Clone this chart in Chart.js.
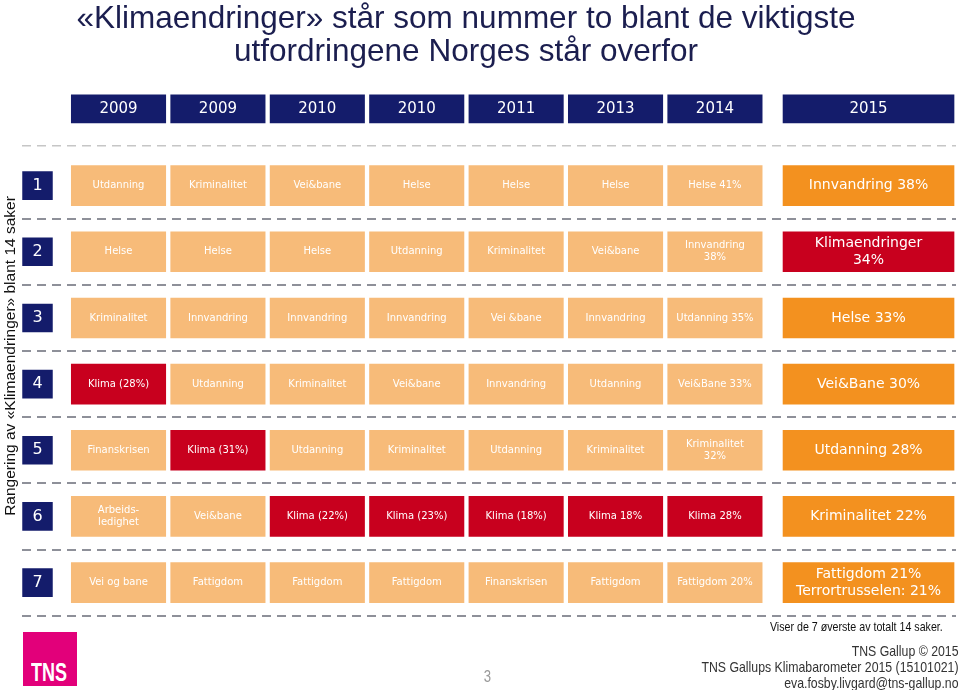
<!DOCTYPE html>
<html>
<head>
<meta charset="utf-8">
<title>Klimaendringer - rangering</title>
<script src="https://cdn.jsdelivr.net/npm/chart.js@4.4.1/dist/chart.umd.min.js"></script>
<style>
  body { margin: 0; background: #fff; }
  #wrap { position: relative; width: 960px; height: 690px; overflow: hidden; }
  #chart { position: absolute; left: 0; top: 0; }
  .txt { position: absolute; font-family: "Liberation Sans", Arial, sans-serif; white-space: nowrap; }
  #title { left: 0; top: 0; width: 932px; text-align: center; font-size: 31.5px; line-height: 33px; color: #1b1e4f; padding-top: 1px; }
  .narrow { transform: scaleX(0.82); transform-origin: right center; text-align: right; }
  #note { right: 17px; top: 620px; font-size: 13px; line-height: 14px; color: #111; }
  #foot { right: 2px; top: 643px; font-size: 15px; line-height: 16px; color: #333; }
  #page { left: 483px; top: 668px; font-size: 16px; line-height: 18px; color: #999; transform: scaleX(0.82); }
  #logo { position: absolute; left: 23px; top: 632px; width: 54px; height: 54px; background: #e2007a; }
  #logo span { position: absolute; left: 8px; bottom: 1px; font-family: "Liberation Sans", Arial, sans-serif; font-weight: bold; font-size: 25px; line-height: 25px; color: #fff; transform: scaleX(0.72); transform-origin: left bottom; }
</style>
</head>
<body>
<div id="wrap">
  <canvas id="chart" width="960" height="690"></canvas>
  <div id="title" class="txt">«Klimaendringer» står som nummer to blant de viktigste<br>utfordringene Norges står overfor</div>
  <div id="note" class="txt narrow">Viser de 7 øverste av totalt 14 saker.</div>
  <div id="foot" class="txt narrow">TNS Gallup © 2015<br>TNS Gallups Klimabarometer 2015 (15101021)<br>eva.fosby.livgard@tns-gallup.no</div>
  <div id="page" class="txt">3</div>
  <div id="logo"><span>TNS</span></div>
</div>
<script>
// ranks down the side, survey years across the top
var ranks = ['1', '2', '3', '4', '5', '6', '7'];
var years = ['2009', '2009', '2010', '2010', '2011', '2013', '2014', '2015'];

// top 7 issues in each survey, rank 1 first
var s2009a = ['Utdanning', 'Helse', 'Kriminalitet', 'Klima (28%)', 'Finanskrisen', 'Arbeids-\nledighet', 'Vei og bane'];
var s2009b = ['Kriminalitet', 'Helse', 'Innvandring', 'Utdanning', 'Klima (31%)', 'Vei&bane', 'Fattigdom'];
var s2010a = ['Vei&bane', 'Helse', 'Innvandring', 'Kriminalitet', 'Utdanning', 'Klima (22%)', 'Fattigdom'];
var s2010b = ['Helse', 'Utdanning', 'Innvandring', 'Vei&bane', 'Kriminalitet', 'Klima (23%)', 'Fattigdom'];
var s2011 = ['Helse', 'Kriminalitet', 'Vei &bane', 'Innvandring', 'Utdanning', 'Klima (18%)', 'Finanskrisen'];
var s2013 = ['Helse', 'Vei&bane', 'Innvandring', 'Utdanning', 'Kriminalitet', 'Klima 18%', 'Fattigdom'];
var s2014 = ['Helse 41%', 'Innvandring\n38%', 'Utdanning 35%', 'Vei&Bane 33%', 'Kriminalitet\n32%', 'Klima 28%', 'Fattigdom 20%'];
var s2015 = ['Innvandring 38%', 'Klimaendringer\n34%', 'Helse 33%', 'Vei&Bane 30%', 'Utdanning 28%', 'Kriminalitet 22%', 'Fattigdom 21%\nTerrortrusselen: 21%'];

var surveys = [s2009a, s2009b, s2010a, s2010b, s2011, s2013, s2014, s2015];

//layout bits (scale units)
var headerRow = -0.16;
var headerRule = 0.39;
var lastCol = years.length - 1;

var colours = {
    navy: '#141c6b',
    light: '#f7bb79',
    current: '#f3911f',
    klima: '#c8001e'
};

function colSpan(c) {
    return c === lastCol ? [7.16, 8.88] : [c, c + 0.95];
}

function cellColour(ctx) {
    var r = ctx.raw;
    if (!r) return colours.light;
    if (r.label.indexOf('Klima') === 0) return colours.klima;
    return r.col === lastCol ? colours.current : colours.light;
}

//build the datasets
var datasets = [];
datasets.push({
    label: 'År',
    data: years.map(function (yr, c) { return { x: colSpan(c), y: headerRow, label: yr }; }),
    backgroundColor: colours.navy,
    barThickness: 28,
    fontSize: 15
});
datasets.push({
    label: 'Rang',
    data: ranks.map(function (rk, i) { return { x: [-0.49, -0.19], y: i + 1, label: rk }; }),
    backgroundColor: colours.navy,
    barThickness: 28,
    fontSize: 16
});
surveys.forEach(function (list, c) {
    datasets.push({
        label: years[c],
        data: list.map(function (txt, i) { return { x: colSpan(c), y: i + 1, label: txt, col: c }; }),
        backgroundColor: cellColour,
        barThickness: 40,
        fontSize: c === lastCol ? 14 : 10
    });
});

//write the text into each box
var boxLabels = {
    id: 'boxLabels',
    afterDatasetsDraw: function (chart) {
        var ctx = chart.ctx;
        ctx.save();
        ctx.fillStyle = '#fff';
        ctx.textAlign = 'center';
        ctx.textBaseline = 'middle';
        chart.data.datasets.forEach(function (ds, i) {
            var meta = chart.getDatasetMeta(i);
            ctx.font = ds.fontSize + 'px "DejaVu Sans"';
            var lh = ds.fontSize * 1.22;
            meta.data.forEach(function (bar, j) {
                var p = bar.getProps(['x', 'y', 'base'], true);
                var lines = ds.data[j].label.split('\n');
                var cx = (p.x + p.base) / 2;
                var y0 = p.y - (lines.length - 1) * lh / 2;
                lines.forEach(function (line, k) {
                    ctx.fillText(line, cx, y0 + k * lh);
                });
            });
        });
        ctx.restore();
    }
};

var ctx = document.getElementById('chart').getContext('2d');
var myChart = new Chart(ctx, {
    type: 'bar',
    data: { datasets: datasets },
    plugins: [boxLabels],
    options: {
        responsive: false,
        animation: false,
        events: [],
        indexAxis: 'y',
        layout: { padding: { top: 93, right: 4, bottom: 71, left: 1 } },
        datasets: { bar: { grouped: false, borderWidth: 0 } },
        plugins: {
            legend: { display: false },
            tooltip: { enabled: false },
            title: { display: false }
        },
        scales: {
            x: { type: 'linear', min: -0.5, max: 8.9, display: false },
            y: {
                type: 'linear',
                reverse: true,
                min: -0.4,
                max: 7.55,
                offset: false,
                afterBuildTicks: function (scale) {
                    scale.ticks = [headerRule, 1.5, 2.5, 3.5, 4.5, 5.5, 6.5, 7.5].map(function (v) { return { value: v }; });
                },
                ticks: { display: false },
                grid: {
                    offset: false,
                    drawTicks: false,
                    lineWidth: function (c) { return c.tick && c.tick.value < 1 ? 1.5 : 2; },
                    color: function (c) { return c.tick && c.tick.value < 1 ? '#c6c6c6' : '#8e9099'; }
                },
                border: { display: false, dash: [9, 6] },
                title: {
                    display: true,
                    text: 'Rangering av «Klimaendringer» blant 14 saker',
                    color: '#111',
                    font: { family: 'Liberation Sans', size: 15.5 },
                    padding: { top: 0, bottom: 2 }
                }
            }
        }
    }
});
</script>
</body>
</html>
